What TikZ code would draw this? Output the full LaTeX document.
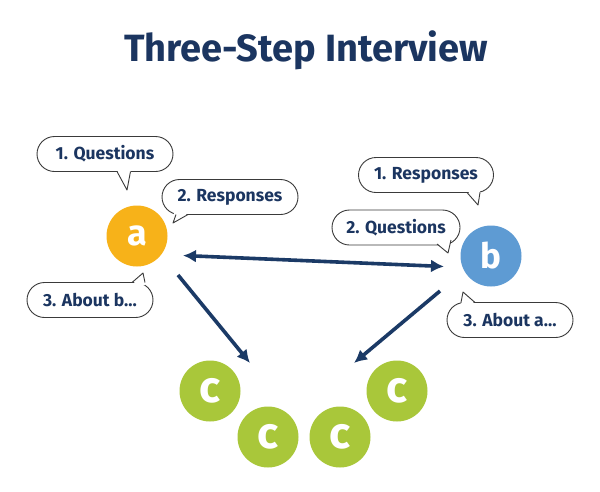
\documentclass[tikz,border=0pt]{standalone}
\usepackage{fontspec}
\setmainfont{Fira Sans}
\usetikzlibrary{arrows.meta}
\definecolor{navy}{HTML}{1B3560}
\definecolor{arrowc}{HTML}{1B3A66}
\definecolor{orangec}{HTML}{F7B219}
\definecolor{bluec}{HTML}{5E9BD3}
\definecolor{greenc}{HTML}{A9C73A}
\definecolor{edgec}{HTML}{3A3A3A}
\tikzset{
  bubble/.style={draw=edgec, line width=0.9pt, fill=white, rounded corners=17.5pt,
    minimum height=35pt, inner sep=0pt, text=navy, font=\bfseries\fontsize{17.5}{19}\selectfont},
  tailfill/.style={fill=white},
  taildraw/.style={draw=edgec, line width=0.9pt, line join=round},
  person/.style={circle, minimum size=61pt, inner sep=0pt, text=white, font=\bfseries\fontsize{36}{36}\selectfont},
  link/.style={draw=arrowc, line width=3.6pt, -{Latex[length=13pt,width=13pt]}},
  linkboth/.style={draw=arrowc, line width=3.6pt, {Latex[length=13pt,width=13pt]}-{Latex[length=13pt,width=13pt]}}
}
\begin{document}
\begin{tikzpicture}[x=1pt,y=-1pt]
\useasboundingbox[fill=white] (0,0) rectangle (600,491);
\node[text=navy, font=\bfseries\fontsize{38}{40}\selectfont] (title) at (306,50) {Three-Step Interview};

% persons
\node[person, fill=orangec] (a) at (137,236) {a};
\node[person, fill=bluec, font=\bfseries\fontsize{35}{35}\selectfont] (b) at (491,256) {b};
\node[person, fill=greenc, font=\bfseries\fontsize{44}{44}\selectfont] (c1) at (210,391) {c};
\node[person, fill=greenc, font=\bfseries\fontsize{44}{44}\selectfont] (c2) at (268,437) {c};
\node[person, fill=greenc, font=\bfseries\fontsize{44}{44}\selectfont] (c3) at (340,437) {c};
\node[person, fill=greenc, font=\bfseries\fontsize{44}{44}\selectfont] (c4) at (397,391) {c};

% bubbles left
\node[bubble, minimum width=136pt] (q1) at (105,154) {1. Questions};
\fill[tailfill] (117,170) -- (127,190) -- (131,170) -- cycle;
\draw[taildraw] (117,171.5) -- (127,190) -- (130.5,171.5);

\node[bubble, minimum width=136pt] (r2) at (230,197) {2. Responses};
\fill[tailfill] (174,212) -- (173,223) -- (190,212) -- cycle;
\draw[taildraw] (176,214.5) -- (173,223) -- (188,214.5);

\node[bubble, minimum width=126pt] (ab) at (90,300) {3. About b\dots};
\fill[tailfill] (132,285) -- (143,273) -- (145,285) -- cycle;
\draw[taildraw] (132,282.5) -- (143,273) -- (145,282.5);

% bubbles right
\node[bubble, minimum width=135pt] (r1) at (426,175) {1. Responses};
\fill[tailfill] (467,190) -- (478,205) -- (480,190) -- cycle;
\draw[taildraw] (467,192.5) -- (478,205) -- (480,192.5);

\node[bubble, minimum width=128pt] (q2) at (396,227.5) {2. Questions};
\fill[tailfill] (436,242) -- (448,253) -- (451,240) -- cycle;
\draw[taildraw] (437,244) -- (448,253) -- (451,240);

\node[bubble, minimum width=126pt] (aa) at (510,320) {3. About a\dots};
\fill[tailfill] (461,305) -- (463,292) -- (476,305) -- cycle;
\draw[taildraw] (461,302.5) -- (463,292) -- (475,302.5);

% arrows
\coordinate (aR) at (183,255.5);
\coordinate (bL) at (444,266.5);
\coordinate (aS) at (178,275);
\coordinate (cL) at (250,363);
\coordinate (bS) at (440,291);
\coordinate (cR) at (354,363);
\draw[linkboth] (aR) -- (bL);
\draw[link] (aS) -- (cL);
\draw[link] (bS) -- (cR);
\end{tikzpicture}
\end{document}
